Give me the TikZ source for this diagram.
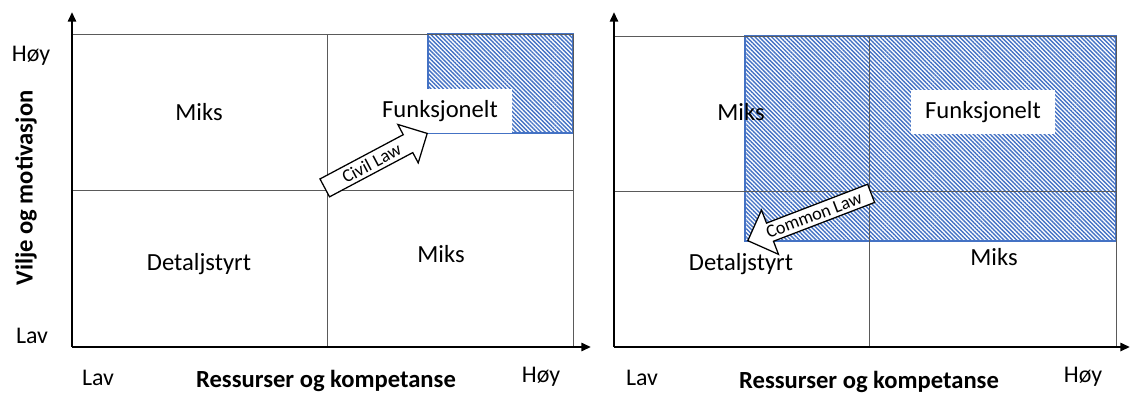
\documentclass[tikz,border=0pt]{standalone}
\usepackage{fontspec}
\setmainfont{Carlito}
\usetikzlibrary{arrows.meta,patterns.meta,shapes.arrows}
\definecolor{hatchblue}{RGB}{68,114,196}
\definecolor{gridgray}{RGB}{90,90,90}
\tikzset{
	akse/.style={line width=2.1pt, -{Triangle[length=0.24cm,width=0.2cm]}},
	rute/.style={draw=gridgray, line width=0.6pt},
	skravur/.style={pattern={Lines[angle=-45,distance=2.1pt,line width=1pt]}, pattern color=hatchblue, draw=hatchblue, line width=0.8pt},
	felt/.style={font=\fontsize{17.5}{20}\selectfont, inner sep=0pt},
	hvitfelt/.style={felt, fill=white, minimum width=3.6cm, minimum height=1.1cm},
	niva/.style={font=\fontsize{17}{20}\selectfont, inner sep=0pt},
	tittel/.style={font=\bfseries\fontsize{17.5}{20}\selectfont, inner sep=0pt},
	pil/.style={single arrow, draw=black, fill=white, line width=0.9pt, inner xsep=2pt, inner ysep=2.2pt, font=\fontsize{13}{15}\selectfont}
}
\begin{document}
\begin{tikzpicture}[x=0.025cm,y=-0.025cm]
	\useasboundingbox (0,0) rectangle (1130,397);
	\path[skravur] (428,34) rectangle (573,133);
	\path[skravur] (745,36) rectangle (1116,241);
	\draw[rute] (72,34) -- (573,34) -- (573,347) (327,34) -- (327,347) (72,190) -- (573,190);
	\draw[rute] (614,36) -- (1116,36) -- (1116,347) (869,36) -- (869,347) (614,191) -- (1116,191);
	\node[niva] (hoyY1) at (31,56) {Høy};
	\node[niva] (lavY1) at (32,336) {Lav};
	\node[tittel, rotate=90] (vilje) at (26,188) {Vilje og motivasjon};
	\node[niva] (lavX1) at (98,378) {Lav};
	\node[tittel] (ressurs1) at (326,381) {Ressurser og kompetanse};
	\node[niva] (hoyX1) at (541,377) {Høy};
	\node[felt] (miks1) at (199,112) {Miks};
	\node[hvitfelt] (funk1) at (440,111) {Funksjonelt};
	\node[felt] (detalj1) at (199,264) {Detaljstyrt};
	\node[felt] (miks2) at (441,254) {Miks};
	\node[niva] (lavX2) at (642,378) {Lav};
	\node[tittel] (ressurs2) at (869,382) {Ressurser og kompetanse};
	\node[niva] (hoyX2) at (1083,377) {Høy};
	\node[felt] (miks3) at (741,112) {Miks};
	\node[hvitfelt] (funk2) at (983,112) {Funksjonelt};
	\node[felt] (detalj2) at (741,264) {Detaljstyrt};
	\node[felt] (miks4) at (994,257) {Miks};
	\coordinate (civiltupp) at (428,133);
	\coordinate (commontupp) at (747,241);
	\node[pil, rotate=28, anchor=tip, minimum height=2.9cm, single arrow head extend=0.29cm] (civil) at (civiltupp) {Civil Law};
	\node[pil, rotate=21, shape border rotate=180, anchor=tip, minimum height=3.3cm, single arrow head extend=0.35cm] (common) at (commontupp) {Common Law};
	\draw[akse] (72,347) -- (72,12);
	\draw[akse] (72,347) -- (591,347);
	\draw[akse] (614,347) -- (614,12);
	\draw[akse] (614,347) -- (1130,347);
\end{tikzpicture}
\end{document}
